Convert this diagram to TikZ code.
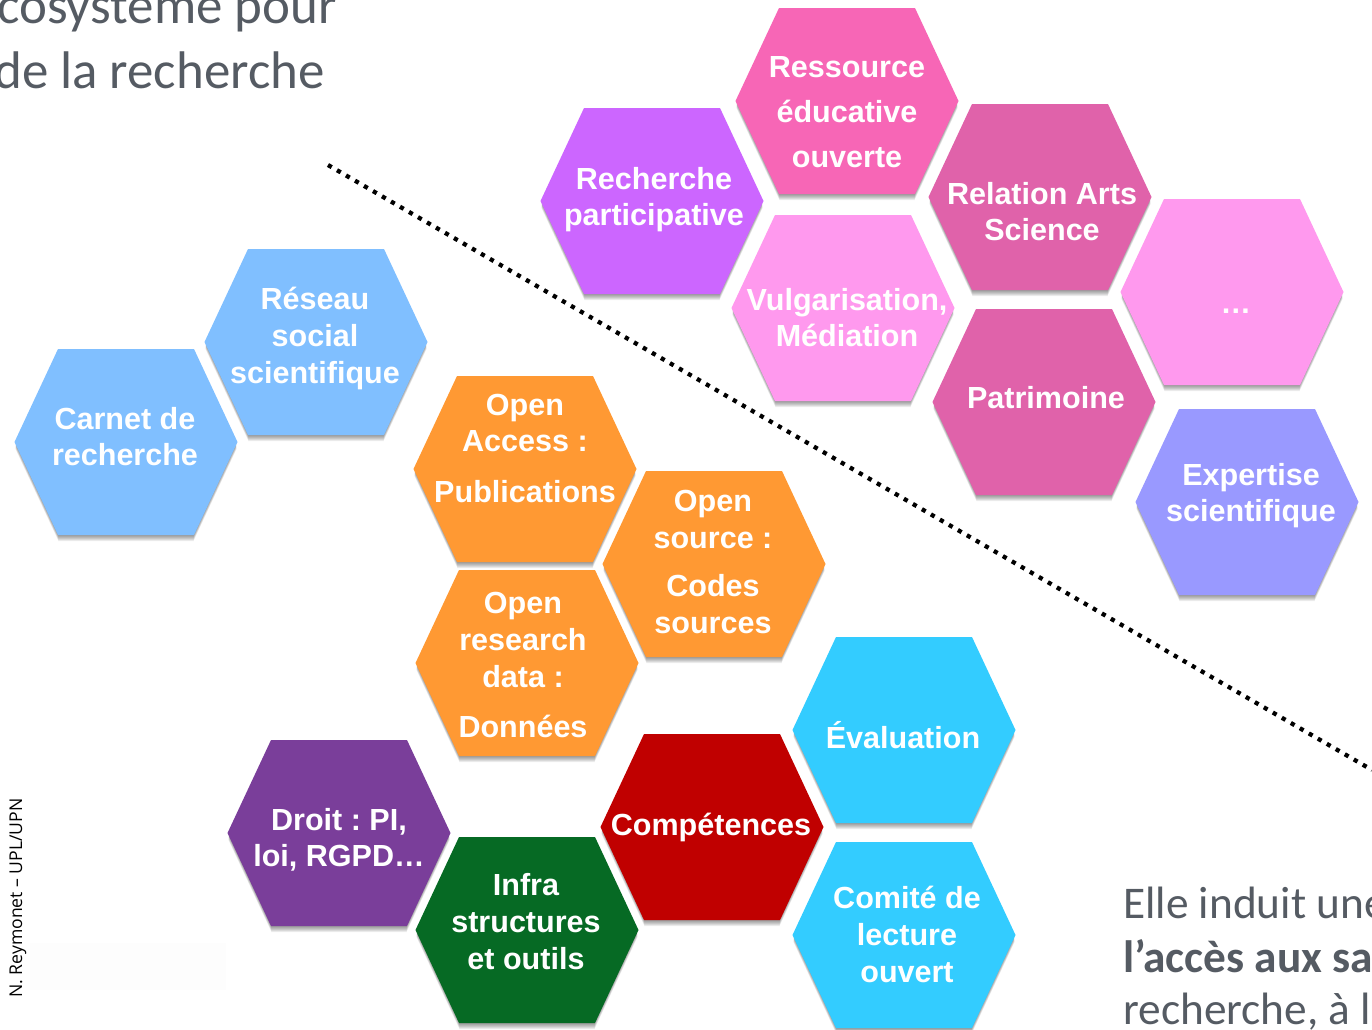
\documentclass[tikz,border=0pt]{standalone}
\usepackage{fontspec}
\setmainfont{Liberation Sans}
\newfontfamily\carl{Carlito}
\newfontfamily\opens{Open Sans}
\definecolor{rose}{HTML}{F766B6}
\definecolor{violetc}{HTML}{CC66FF}
\definecolor{rosefonce}{HTML}{E062AA}
\definecolor{roseclair}{HTML}{FF99EE}
\definecolor{lavande}{HTML}{9999FF}
\definecolor{bleuclair}{HTML}{80BFFF}
\definecolor{orangec}{HTML}{FF9933}
\definecolor{cyanc}{HTML}{33CCFF}
\definecolor{rouge}{HTML}{C00000}
\definecolor{prune}{HTML}{7A3E9A}
\definecolor{vert}{HTML}{066A24}
\definecolor{grisc}{HTML}{555B63}
\frenchspacing
\tikzset{
  hexlabel/.style={text=white,align=center,inner sep=0pt,font=\bfseries\fontsize{22.9}{27.6}\selectfont},
  graytext/.style={text=grisc,anchor=base west,inner sep=0pt,font=\carl\fontsize{34}{40}\selectfont},
  titletext/.style={graytext,font=\carl\fontsize{39.7}{46}\selectfont},
  dotline/.style={line width=3.2pt,dash pattern=on 3.2pt off 4.6pt}
}
% #1 name, #2 cx, #3 cy, #4 colour, #5 text x, #6 text y, #7 text
\newcommand{\hexa}[7]{%
  \foreach \dy in {1,2,3,4,5,6,7}{%
    \fill[black,opacity=.075,shift={(#2,#3+\dy)}] (-110.5,0)--(-67.5,-92)--(67.5,-92)--(110.5,0)--(67.5,92)--(-67.5,92)--cycle;}
  \fill[#4,shift={(#2,#3)}] (-111.5,0)--(-68,-93)--(68,-93)--(111.5,0)--(68,93)--(-68,93)--cycle;
  \node[hexlabel] (#1) at (#5,#6+1.2) {\strut #7\strut};
}
\begin{document}
\begin{tikzpicture}[x=.75pt,y=-.75pt]
\useasboundingbox (0,0) rectangle (1372,1029);
\clip (0,0) rectangle (1372,1029);
\fill[white] (0,0) rectangle (1372,1029);
\fill[black!0.6] (30,943) rectangle (226,990);
\node[titletext] (titrea) at (-3,23) {cosystème pour};
\node[titletext] (titreb) at (-6,88) {de la recherche};
\coordinate (dota) at (328,165);
\coordinate (dotb) at (1372,770);
\draw[dotline] (dota) -- (dotb);
\hexa{ressource}{847}{101}{rose}{847}{114}{Ressource\\[6pt]éducative\\[6pt]ouverte}
\hexa{recherche}{652}{201}{violetc}{654}{199}{Recherche\\participative}
\hexa{relation}{1040}{197}{rosefonce}{1042}{214}{Relation Arts\\Science}
\hexa{vulgar}{843}{308}{roseclair}{847}{320}{Vulgarisation,\\Médiation}
\hexa{points}{1232}{292}{roseclair}{1236}{305}{…}
\hexa{patrimoine}{1044}{402}{rosefonce}{1046}{400}{Patrimoine}
\hexa{expertise}{1247}{502}{lavande}{1251}{495}{Expertise\\scientifique}
\hexa{reseau}{316}{342}{bleuclair}{315}{338}{Réseau\\social\\scientifique}
\hexa{carnet}{126}{442}{bleuclair}{125}{439}{Carnet de\\recherche}
\hexa{access}{525}{469}{orangec}{525}{450}{Open\\Access :\\[10pt]Publications}
\hexa{source}{714}{564}{orangec}{713}{564}{Open\\source :\\[9pt]Codes\\sources}
\hexa{data}{527}{663}{orangec}{523}{667}{Open\\research\\data :\\[10pt]Données}
\hexa{evaluation}{904}{730}{cyanc}{903}{739}{Évaluation}
\hexa{competences}{712}{827}{rouge}{711}{827}{Compétences}
\hexa{droit}{339}{833}{prune}{339}{840}{Droit : PI,\\loi, RGPD…}
\hexa{infra}{527}{930}{vert}{526}{924}{Infra\\structures\\et outils}
\hexa{comite}{904}{935}{cyanc}{907}{937}{Comité de\\lecture\\ouvert}
\node[graytext] (ellea) at (1123,918) {Elle induit une};
\node[graytext,font=\carl\bfseries\fontsize{34}{40}\selectfont] (elleb) at (1123,972) {l’accès aux sa};
\node[graytext] (ellec) at (1123,1024) {recherche, à l};
\node[rotate=90,anchor=base west,inner sep=0pt,font=\opens\fontsize{13.2}{15}\selectfont] (credit) at (22,998) {N. Reymonet – UPL/UPN};
\end{tikzpicture}
\end{document}
